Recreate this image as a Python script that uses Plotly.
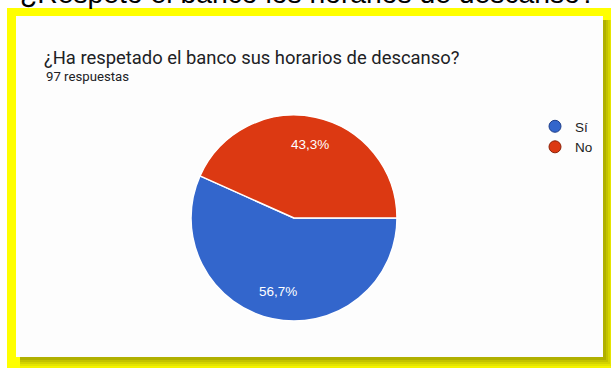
import math
import plotly.graph_objects as go

W, H = 611, 368

# Survey answers
labels = ["Sí", "No"]
values = [55, 42]
colors = ["#3366CC", "#DC3912"]
edge_colors = ["#1f3f8a", "#8c2208"]

headline = "¿Respetó el banco los horarios de descanso?"
question = "¿Ha respetado el banco sus horarios de descanso?"
responses = f"{sum(values)} respuestas"

# pie placement in pixels
CX, CY, R = 294, 218, 103
START_DEG = 90  # first slice starts at 3 o'clock


def px_x(v):
    return v / W


def px_y(v):
    return 1 - v / H


fig = go.Figure()

fig.add_trace(go.Pie(
    labels=labels,
    values=values,
    sort=False,
    direction="clockwise",
    rotation=START_DEG,
    marker=dict(colors=colors, line=dict(color="white", width=1.5)),
    textinfo="none",
    hoverinfo="label+value+percent",
    showlegend=False,
    domain=dict(x=[px_x(CX - R), px_x(CX + R)], y=[px_y(CY + R), px_y(CY - R)]),
))

# Legend entries drawn as round markers
for lab, col, edge in zip(labels, colors, edge_colors):
    fig.add_trace(go.Scatter(
        x=[None], y=[None], mode="markers", name=lab,
        marker=dict(symbol="circle", size=12, color=col, line=dict(color=edge, width=1)),
        hoverinfo="skip",
    ))

shapes = [
    # yellow backdrop
    dict(type="rect", xref="paper", yref="paper", layer="below",
         x0=px_x(7), x1=px_x(W), y0=px_y(H), y1=px_y(8),
         fillcolor="#FFFF00", line=dict(width=0)),
]
# soft card shadow
for off, alpha in [(11, 0.06), (9, 0.08), (7, 0.10), (5, 0.12), (3, 0.15)]:
    shapes.append(dict(type="rect", xref="paper", yref="paper", layer="below",
                       x0=px_x(20), x1=px_x(603 + off), y0=px_y(357 + off), y1=px_y(20),
                       fillcolor=f"rgba(70,70,0,{alpha})", line=dict(width=0)))
# white card
shapes.append(dict(type="rect", xref="paper", yref="paper", layer="below",
                   x0=px_x(16), x1=px_x(603), y0=px_y(357), y1=px_y(16),
                   fillcolor="#FDFDFD", line=dict(width=0)))

annotations = [
    dict(text=headline, xref="paper", yref="paper", x=px_x(18), y=px_y(-7),
         xanchor="left", yanchor="middle", showarrow=False,
         font=dict(family="Liberation Sans, Arial", size=28.3, color="black")),
    dict(text=question, xref="paper", yref="paper", x=px_x(42), y=px_y(57.5),
         xanchor="left", yanchor="middle", showarrow=False,
         font=dict(family="Roboto", size=18.4, color="#202124")),
    dict(text=responses, xref="paper", yref="paper", x=px_x(44), y=px_y(76.5),
         xanchor="left", yanchor="middle", showarrow=False,
         font=dict(family="Roboto", size=13.2, color="#202124")),
]

# percentage labels at each slice's mid angle
total = sum(values)
acc = 0.0
for v in values:
    frac = v / total
    mid = (START_DEG - 90) + (acc + frac / 2) * 360  # clockwise from 3 o'clock
    acc += frac
    rad = math.radians(mid)
    lx = CX + 0.725 * R * math.cos(rad)
    ly = CY + 0.725 * R * math.sin(rad)
    annotations.append(dict(
        text=f"{frac * 100:.1f}%".replace(".", ","),
        xref="paper", yref="paper", x=px_x(lx), y=px_y(ly),
        xanchor="center", yanchor="middle", showarrow=False,
        font=dict(family="Liberation Sans, Arial", size=13.5, color="white"),
    ))

fig.update_layout(
    width=W, height=H,
    margin=dict(l=0, r=0, t=0, b=0),
    paper_bgcolor="white",
    plot_bgcolor="rgba(0,0,0,0)",
    separators=",.",
    xaxis=dict(visible=False),
    yaxis=dict(visible=False),
    shapes=shapes,
    annotations=annotations,
    showlegend=True,
    legend=dict(
        x=px_x(535), y=px_y(111), xanchor="left", yanchor="top",
        bgcolor="rgba(0,0,0,0)",
        font=dict(family="Liberation Sans, Arial", size=13.5, color="#222222"),
        itemwidth=30,
        tracegroupgap=0,
    ),
)

fig.write_html("out.html")
